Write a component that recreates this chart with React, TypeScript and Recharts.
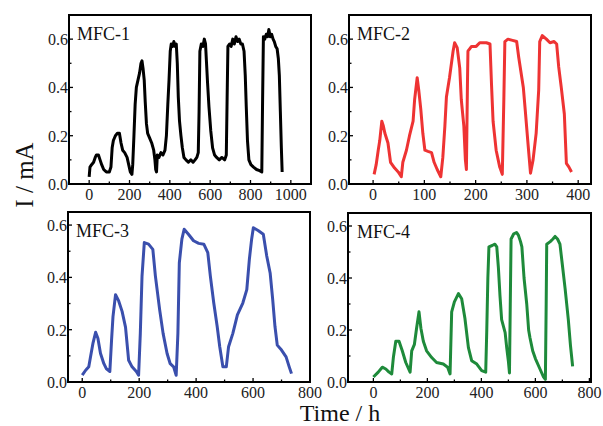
import React from "react";
import { LineChart, Line, XAxis, YAxis, ReferenceArea } from "recharts";

// time (h), current (mA)
const mfc1: [number, number][] = [
  [0, 0.03], [4, 0.07], [12, 0.08], [22, 0.09], [30, 0.11], [36, 0.12], [46, 0.12], [54, 0.1],
  [62, 0.08], [72, 0.06], [85, 0.05], [100, 0.05], [108, 0.07], [114, 0.15], [120, 0.18], [130, 0.2],
  [140, 0.21], [150, 0.21], [158, 0.17], [166, 0.14], [176, 0.13], [188, 0.11], [196, 0.08], [204, 0.05],
  [212, 0.04], [216, 0.08], [222, 0.2], [228, 0.33], [234, 0.4], [242, 0.43], [250, 0.46], [257, 0.5],
  [262, 0.51], [267, 0.48], [273, 0.43], [278, 0.34], [284, 0.25], [290, 0.21], [300, 0.19], [310, 0.17],
  [320, 0.14], [326, 0.1], [330, 0.06], [334, 0.05], [338, 0.12], [346, 0.11], [356, 0.13], [366, 0.12],
  [376, 0.14], [383, 0.2], [390, 0.33], [396, 0.43], [402, 0.55], [407, 0.58], [414, 0.57], [420, 0.59],
  [426, 0.57], [432, 0.58], [437, 0.5], [442, 0.36], [448, 0.26], [455, 0.2], [462, 0.15], [470, 0.11],
  [480, 0.1], [492, 0.09], [504, 0.1], [515, 0.09], [525, 0.1], [534, 0.11], [541, 0.13], [545, 0.3],
  [549, 0.55], [556, 0.58], [564, 0.57], [571, 0.6], [577, 0.58], [582, 0.5], [587, 0.42], [594, 0.32],
  [603, 0.22], [612, 0.15], [622, 0.12], [632, 0.11], [645, 0.1], [658, 0.11], [672, 0.1], [680, 0.12],
  [684, 0.35], [688, 0.57], [696, 0.58], [704, 0.57], [712, 0.6], [720, 0.58], [728, 0.61], [736, 0.59],
  [744, 0.6], [752, 0.58], [760, 0.58], [768, 0.55], [774, 0.45], [779, 0.32], [785, 0.18], [792, 0.1],
  [802, 0.08], [815, 0.07], [830, 0.06], [845, 0.055], [856, 0.05], [860, 0.35], [864, 0.61], [871, 0.6],
  [878, 0.62], [885, 0.61], [891, 0.64], [898, 0.61], [905, 0.62], [912, 0.6], [918, 0.59], [925, 0.57],
  [932, 0.56], [938, 0.52], [943, 0.45], [948, 0.3], [953, 0.15], [957, 0.05],
];

const mfc2: [number, number][] = [
  [2, 0.04], [6, 0.08], [10, 0.14], [13, 0.18], [17, 0.26], [20, 0.24], [23, 0.21], [29, 0.17],
  [34, 0.09], [42, 0.066], [49, 0.05], [55, 0.03], [58, 0.09], [65, 0.14], [71, 0.2], [78, 0.26],
  [81, 0.35], [86, 0.44], [89, 0.39], [93, 0.31], [97, 0.21], [101, 0.14], [107, 0.135], [114, 0.13],
  [119, 0.09], [125, 0.06], [132, 0.03], [136, 0.11], [140, 0.24], [143, 0.36], [149, 0.44], [156, 0.55],
  [159, 0.585], [164, 0.565], [169, 0.48], [172, 0.35], [177, 0.24], [180, 0.1], [182, 0.06], [184, 0.41],
  [185, 0.55], [192, 0.57], [201, 0.57], [208, 0.585], [221, 0.585], [228, 0.58], [231, 0.41], [234, 0.26],
  [240, 0.14], [247, 0.07], [252, 0.04], [255, 0.35], [257, 0.59], [263, 0.6], [272, 0.595], [280, 0.59],
  [284, 0.525], [293, 0.4], [297, 0.3], [302, 0.17], [307, 0.045], [312, 0.1], [318, 0.21], [323, 0.39],
  [325, 0.59], [330, 0.615], [338, 0.6], [345, 0.585], [353, 0.59], [358, 0.58], [362, 0.485], [367, 0.4],
  [373, 0.29], [377, 0.085], [382, 0.07], [387, 0.05],
];

const mfc3: [number, number][] = [
  [0, 0.026], [12, 0.045], [23, 0.058], [29, 0.096], [38, 0.15], [47, 0.19], [55, 0.167], [64, 0.11],
  [76, 0.07], [85, 0.05], [97, 0.04], [103, 0.16], [108, 0.25], [117, 0.334], [128, 0.31], [140, 0.27],
  [152, 0.21], [163, 0.083], [175, 0.058], [190, 0.04], [198, 0.026], [204, 0.186], [210, 0.405], [218, 0.533],
  [233, 0.527], [248, 0.507], [257, 0.405], [272, 0.276], [284, 0.186], [298, 0.109], [309, 0.07], [321, 0.058],
  [330, 0.026], [336, 0.186], [341, 0.456], [350, 0.546], [358, 0.584], [373, 0.565], [391, 0.54], [409, 0.53],
  [427, 0.527], [441, 0.495], [450, 0.405], [462, 0.302], [474, 0.212], [483, 0.135], [494, 0.058], [506, 0.058],
  [514, 0.135], [529, 0.186], [545, 0.257], [564, 0.302], [578, 0.353], [587, 0.469], [595, 0.546], [601, 0.59],
  [619, 0.578], [636, 0.565], [648, 0.482], [660, 0.417], [669, 0.315], [677, 0.212], [685, 0.141], [700, 0.122],
  [716, 0.096], [727, 0.058], [735, 0.032],
];

const mfc4: [number, number][] = [
  [0, 0.019], [18, 0.038], [33, 0.057], [46, 0.05], [58, 0.038], [68, 0.031], [74, 0.094], [83, 0.157],
  [95, 0.157], [107, 0.12], [120, 0.075], [136, 0.038], [142, 0.12], [152, 0.145], [160, 0.207], [169, 0.27],
  [176, 0.207], [185, 0.157], [197, 0.12], [216, 0.094], [234, 0.075], [259, 0.069], [275, 0.057], [284, 0.031],
  [290, 0.27], [300, 0.308], [315, 0.34], [327, 0.32], [339, 0.245], [352, 0.132], [364, 0.082], [383, 0.069],
  [401, 0.044], [416, 0.038], [420, 0.2], [424, 0.4], [428, 0.52], [440, 0.525], [450, 0.53], [457, 0.52],
  [463, 0.44], [469, 0.33], [475, 0.24], [488, 0.19], [494, 0.13], [500, 0.08], [504, 0.035], [507, 0.3],
  [510, 0.55], [520, 0.57], [530, 0.575], [537, 0.565], [545, 0.54], [550, 0.52], [558, 0.4], [568, 0.3],
  [575, 0.2], [580, 0.17], [590, 0.12], [600, 0.09], [617, 0.05], [630, 0.02], [637, 0.01], [640, 0.3],
  [642, 0.53], [655, 0.54], [665, 0.55], [673, 0.56], [682, 0.55], [691, 0.53], [700, 0.45], [710, 0.36],
  [722, 0.24], [730, 0.14], [738, 0.06],
];

const yTicks = [0, 0.1, 0.2, 0.3, 0.4, 0.5, 0.6];
const xTicks1000 = [0, 100, 200, 300, 400, 500, 600, 700, 800, 900, 1000];
const xTicks400 = [0, 50, 100, 150, 200, 250, 300, 350, 400];
const xTicks800 = [0, 100, 200, 300, 400, 500, 600, 700, 800];

const FONT = '"Liberation Serif", "Times New Roman", serif';
const ML = 50;
const MT = 5;
const MR = 20;
const MB = 25;

type PanelProps = {
  data: [number, number][];
  color: string;
  left: number;
  top: number;
  w: number;
  h: number;
  xDomain: [number, number];
  xTicks: number[];
  xMajor: number;
  yMax: number;
};

const isMult = (v: number, step: number) => Math.abs(v / step - Math.round(v / step)) < 1e-6;

const Panel = ({ data, color, left, top, w, h, xDomain, xTicks, xMajor, yMax }: PanelProps) => {
  const rows = data.map(([t, i]) => ({ t, i }));

  const xTick = (props: any) => {
    const { x, y, payload } = props;
    const major = isMult(payload.value, xMajor);
    return (
      <g>
        <line x1={x} x2={x} y1={y} y2={y - (major ? 4 : 2.5)} stroke="#000" strokeWidth={1.3} />
        {major && (
          <text x={x} y={y + 16} textAnchor="middle" fontSize={16} fill="#222" fontFamily={FONT}>
            {payload.value}
          </text>
        )}
      </g>
    );
  };

  const yTick = (props: any) => {
    const { x, y, payload } = props;
    const major = isMult(payload.value, 0.2);
    return (
      <g>
        <line x1={x} x2={x + (major ? 4 : 2.5)} y1={y} y2={y} stroke="#000" strokeWidth={1.3} />
        {major && (
          <text x={x - 1} y={y + 6} textAnchor="end" fontSize={16} fill="#222" fontFamily={FONT}>
            {payload.value.toFixed(1)}
          </text>
        )}
      </g>
    );
  };

  return (
    <div style={{ position: "absolute", left: left - ML, top: top - MT }}>
      <LineChart
        width={w + ML + MR}
        height={h + MT + MB}
        data={rows}
        margin={{ top: MT, right: MR, left: 0, bottom: 0 }}
        style={{ overflow: "visible" }}
      >
        <XAxis
          dataKey="t"
          type="number"
          domain={xDomain}
          ticks={xTicks}
          interval={0}
          allowDataOverflow
          height={MB}
          axisLine={false}
          tickLine={false}
          tickSize={0}
          tickMargin={0}
          tick={xTick}
        />
        <YAxis
          type="number"
          domain={[0, yMax]}
          ticks={yTicks}
          interval={0}
          allowDataOverflow
          width={ML}
          axisLine={false}
          tickLine={false}
          tickSize={0}
          tickMargin={0}
          tick={yTick}
        />
        <ReferenceArea
          x1={xDomain[0]}
          x2={xDomain[1]}
          y1={0}
          y2={yMax}
          fill="none"
          fillOpacity={0}
          stroke="#000"
          strokeWidth={2}
        />
        <Line
          type="linear"
          dataKey="i"
          stroke={color}
          strokeWidth={3}
          strokeLinejoin="round"
          dot={false}
          isAnimationActive={false}
        />
      </LineChart>
    </div>
  );
};

export default function App() {
  return (
    <div
      style={{
        position: "absolute",
        left: 0,
        top: 0,
        width: 603,
        height: 426,
        background: "#fff",
        overflow: "hidden",
      }}
    >
      <Panel data={mfc1} color="#000000" left={69} top={15} w={242} h={169}
        xDomain={[-100, 1100]} xTicks={xTicks1000} xMajor={200} yMax={0.7} />
      <Panel data={mfc2} color="#ee3333" left={349} top={15} w={242} h={169}
        xDomain={[-47, 425]} xTicks={xTicks400} xMajor={100} yMax={0.7} />
      <Panel data={mfc3} color="#3a4fad" left={68} top={212} w={242} h={170}
        xDomain={[-50, 800]} xTicks={xTicks800} xMajor={200} yMax={0.65} />
      <Panel data={mfc4} color="#1e8a3a" left={348} top={213} w={243} h={169}
        xDomain={[-94, 806]} xTicks={xTicks800} xMajor={200} yMax={0.65} />
      <svg width={603} height={426} style={{ position: "absolute", left: 0, top: 0, pointerEvents: "none" }}>
        <g fontFamily={FONT} fill="#111">
          <text x={77} y={40} fontSize={18}>MFC-1</text>
          <text x={357} y={40} fontSize={18}>MFC-2</text>
          <text x={76} y={237} fontSize={18}>MFC-3</text>
          <text x={357} y={238} fontSize={18}>MFC-4</text>
          <text x={340} y={421} fontSize={24} textAnchor="middle">Time / h</text>
          <text transform="translate(33,175) rotate(-90)" fontSize={25} textAnchor="middle">I / mA</text>
        </g>
      </svg>
    </div>
  );
}
